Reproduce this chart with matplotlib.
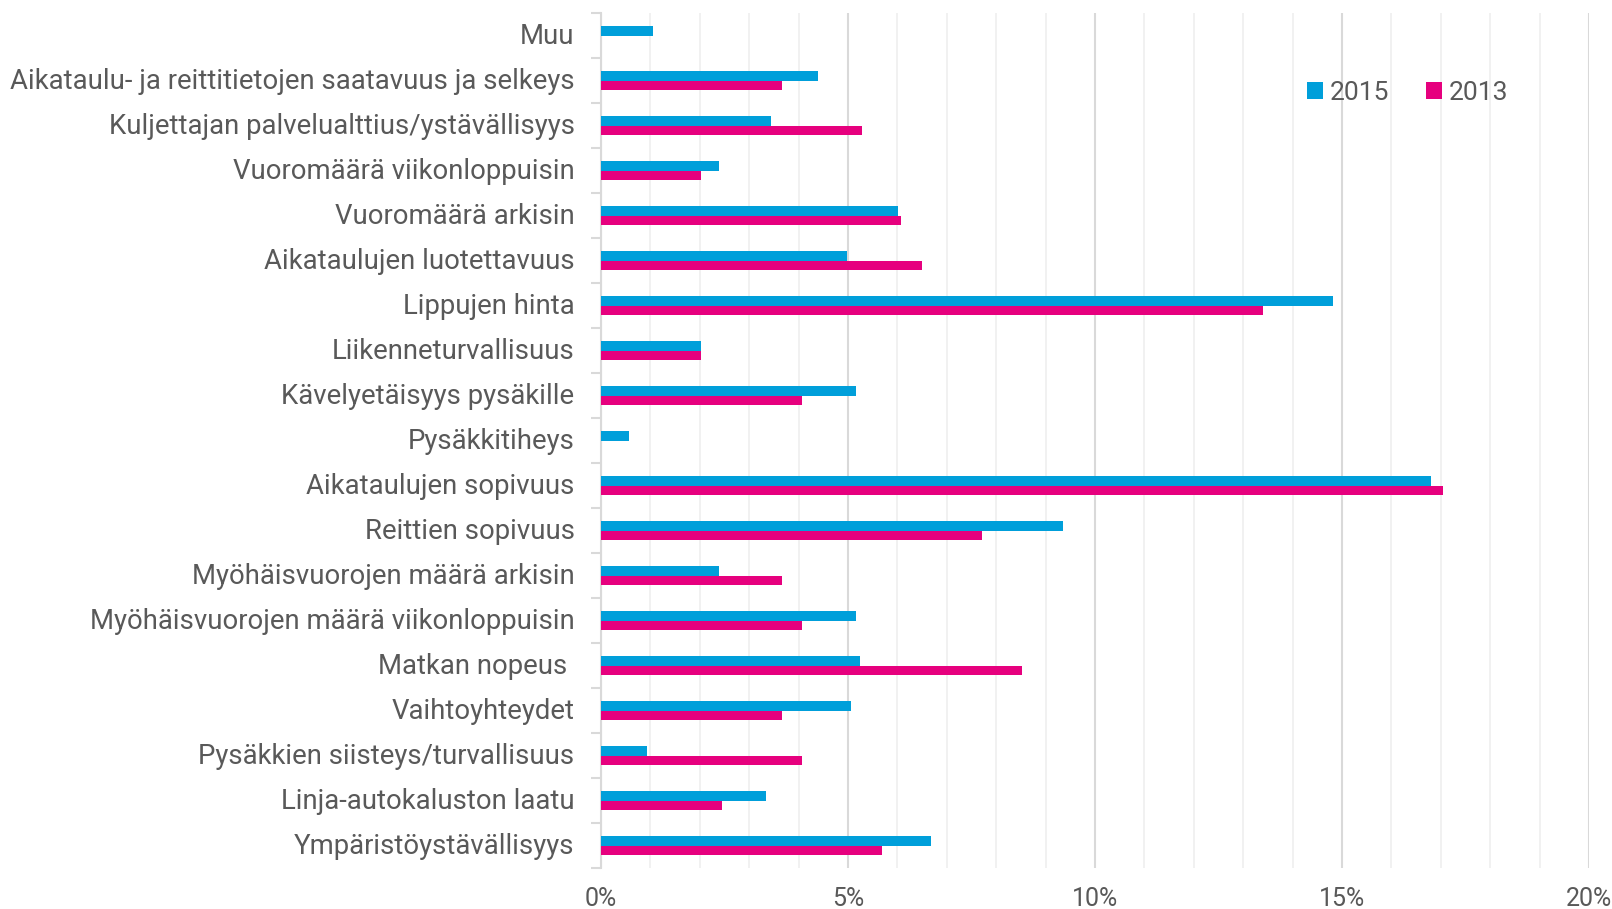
import matplotlib
matplotlib.use("Agg")
import matplotlib.pyplot as plt
import matplotlib.transforms as mtransforms
import numpy as np
from matplotlib.ticker import MultipleLocator, FuncFormatter

categories = [
    "Muu",
    "Aikataulu- ja reittitietojen saatavuus ja selkeys",
    "Kuljettajan palvelualttius/ystävällisyys",
    "Vuoromäärä viikonloppuisin",
    "Vuoromäärä arkisin",
    "Aikataulujen luotettavuus",
    "Lippujen hinta",
    "Liikenneturvallisuus",
    "Kävelyetäisyys pysäkille",
    "Pysäkkitiheys",
    "Aikataulujen sopivuus",
    "Reittien sopivuus",
    "Myöhäisvuorojen määrä arkisin",
    "Myöhäisvuorojen määrä viikonloppuisin",
    "Matkan nopeus ",
    "Vaihtoyhteydet",
    "Pysäkkien siisteys/turvallisuus",
    "Linja-autokaluston laatu",
    "Ympäristöystävällisyys",
]
values_2015 = [1.05, 4.4, 3.44, 2.39, 6.02, 4.98, 14.81, 2.02, 5.17, 0.56,
               16.8, 9.35, 2.38, 5.17, 5.25, 5.06, 0.94, 3.35, 6.69]
values_2013 = [0.0, 3.66, 5.28, 2.03, 6.08, 6.5, 13.4, 2.02, 4.06, 0.0,
               17.04, 7.71, 3.66, 4.06, 8.52, 3.66, 4.06, 2.44, 5.69]
series_labels = ["2015", "2013"]
colors = ["#009FDA", "#E6007E"]

FONT = ["Roboto", "DejaVu Sans"]
TXT = "#595959"

fig = plt.figure(figsize=(16.12, 9.09), dpi=100)
ax = fig.add_axes([601 / 1612, 1 - 868 / 909, (1589 - 601) / 1612, (868 - 13) / 909])

y = np.arange(len(categories))
h = 0.21
ax.barh(y - h / 2, values_2015, height=h, color=colors[0], label=series_labels[0],
        linewidth=0, zorder=3)
ax.barh(y + h / 2, values_2013, height=h, color=colors[1], label=series_labels[1],
        linewidth=0, zorder=3)

ax.set_xlim(0, 20)
ax.set_ylim(len(categories) - 0.5, -0.5)

ax.xaxis.set_major_locator(MultipleLocator(5))
ax.xaxis.set_minor_locator(MultipleLocator(1))
ax.xaxis.set_major_formatter(FuncFormatter(lambda v, p: f"{int(round(v))}%"))
ax.grid(axis="x", which="minor", color="#efefef", linewidth=1.2, zorder=0)
ax.grid(axis="x", which="major", color="#d9d9d9", linewidth=1.5, zorder=0)
ax.tick_params(axis="x", which="both", length=0, pad=14, labelsize=18, labelcolor=TXT)

ax.set_yticks(y)
ax.set_yticklabels(categories)
ax.set_yticks(np.arange(len(categories) + 1) - 0.5, minor=True)
ax.tick_params(axis="y", which="major", length=0, pad=19, labelsize=19.8, labelcolor=TXT)
ax.tick_params(axis="y", which="minor", length=7, width=1.5, color="#d9d9d9")

for lab in ax.get_xticklabels() + ax.get_yticklabels():
    lab.set_family(FONT)

shift = mtransforms.ScaledTranslation(0, 2 / 100, fig.dpi_scale_trans)
for lab in ax.get_yticklabels():
    lab.set_transform(lab.get_transform() + shift)

for s in ["top", "right", "bottom"]:
    ax.spines[s].set_visible(False)
ax.spines["left"].set_color("#d9d9d9")
ax.spines["left"].set_linewidth(1.5)

leg = ax.legend(loc="center left", bbox_to_anchor=(0.715, 0.907), ncol=2, frameon=False,
                prop={"family": FONT, "size": 19},
                handlelength=0.6, handleheight=0.6, borderpad=0, borderaxespad=0,
                handletextpad=0.25, columnspacing=1.4)
for t in leg.get_texts():
    t.set_color(TXT)

fig.savefig("out.png", dpi=100, facecolor="white")
